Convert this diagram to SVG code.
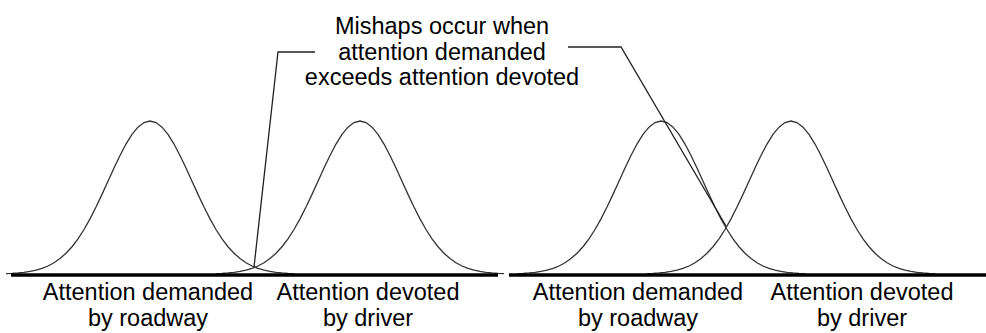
<svg xmlns="http://www.w3.org/2000/svg" width="986" height="333" viewBox="0 0 986 333">
  <style>
    .curve { fill: none; stroke: #333; stroke-width: 1.3; }
    .axis { fill: none; stroke: #000; stroke-width: 3.5; }
    .leader { fill: none; stroke: #222; stroke-width: 1.3; }
    text { font-family: "Liberation Sans", Arial, sans-serif; font-size: 23.5px; fill: #000; text-anchor: middle; }
  </style>
  <defs>
    <path id="bell" class="curve" d="M-144,-0.43 L-138,-0.69 L-132,-1.1 L-126,-1.7 L-120,-2.58 L-114,-3.85 L-108,-5.61 L-102,-8.01 L-96,-11.23 L-90,-15.41 L-84,-20.71 L-78,-27.28 L-72,-35.21 L-66,-44.51 L-60,-55.14 L-54,-66.95 L-48,-79.63 L-42,-92.8 L-36,-105.97 L-30,-118.54 L-24,-129.96 L-18,-139.58 L-12,-146.88 L-6,-151.45 L0,-153 L6,-151.45 L12,-146.88 L18,-139.58 L24,-129.96 L30,-118.54 L36,-105.97 L42,-92.8 L48,-79.63 L54,-66.95 L60,-55.14 L66,-44.51 L72,-35.21 L78,-27.28 L84,-20.71 L90,-15.41 L96,-11.23 L102,-8.01 L108,-5.61 L114,-3.85 L120,-2.58 L126,-1.7 L132,-1.1 L138,-0.69 L144,-0.43"/>
  </defs>

  <g id="left-panel">
    <g id="curve-demanded-left"><use href="#bell" x="150" y="274"/></g>
    <g id="curve-devoted-left"><use href="#bell" x="360" y="274"/></g>
    <g id="axis-left"><line class="axis" x1="11" y1="275" x2="498" y2="275"/></g>
    <g id="label-demanded-left">
      <text x="148" y="300">Attention demanded</text>
      <text x="148" y="326">by roadway</text>
    </g>
    <g id="label-devoted-left">
      <text x="368" y="300">Attention devoted</text>
      <text x="368" y="326">by driver</text>
    </g>
  </g>

  <g id="right-panel">
    <g id="curve-demanded-right"><use href="#bell" x="661" y="274"/></g>
    <g id="curve-devoted-right"><use href="#bell" x="791" y="274"/></g>
    <g id="axis-right"><line class="axis" x1="509" y1="275" x2="986" y2="275"/></g>
    <g id="label-demanded-right">
      <text x="638" y="300">Attention demanded</text>
      <text x="638" y="326">by roadway</text>
    </g>
    <g id="label-devoted-right">
      <text x="862" y="300">Attention devoted</text>
      <text x="862" y="326">by driver</text>
    </g>
  </g>

  <g id="callout">
    <text x="442" y="34">Mishaps occur when</text>
    <text x="442" y="59.5">attention demanded</text>
    <text x="442" y="85">exceeds attention devoted</text>
  </g>

  <g id="connectors">
    <polyline class="leader" points="315,52 278,52 254,267"/>
    <polyline class="leader" points="568,47 621,47 726,226"/>
  </g>
</svg>
